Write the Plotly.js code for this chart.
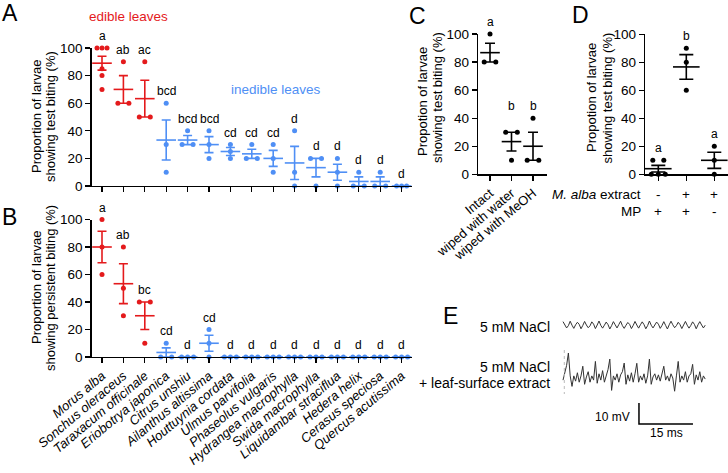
<!DOCTYPE html>
<html><head><meta charset="utf-8">
<script src="https://cdn.plot.ly/plotly-3.0.1.min.js"></script>
<style>html,body{margin:0;padding:0;background:#fff}#plot{width:728px;height:473px}</style>
</head><body><div id="plot"></div>
<script>
// ---------------- DATA ----------------
const species = ['Morus alba','Sonchus oleraceus','Taraxacum officinale','Eriobotrya japonica','Citrus unshiu',
  'Ailanthus altissima','Houttuynia cordata','Ulmus parvifolia','Phaseolus vulgaris','Hydrangea macrophylla',
  'Swida macrophylla','Liquidambar straciflua','Hedera helix','Cerasus speciosa','Quercus acutissima'];
const edible = [true,true,true,false,false,false,false,false,false,false,false,false,false,false,false];

// Panel A: test biting (%)
const aPoints = [[100,100,100,85,80,70],[90,60,60],[90,50,50],[60,30,10],[40,30,30],[40,30,20],[30,25,20],
  [30,20,20],[30,20,10],[40,10,0],[20,20,0],[20,10,0],[10,0,0],[10,0,0],[0,0,0]];
const aMean = [89,70,63.3,33.3,33.3,30,25,23.3,20,16.7,13.3,10,3.3,3.3,0];
const aSem  = [5,10,13.3,14.5,3.3,5.8,2.9,3.3,5.8,12,6.7,5.8,3.3,3.3,0];
const aLetters = ['a','ab','ac','bcd','bcd','bcd','cd','cd','cd','d','d','d','d','d','d'];

// Panel B: persistent biting (%)
const bPoints = [[100,80,60],[80,50,30],[40,40,10],[10,0,0],[0,0,0],[20,10,0],[0,0,0],[0,0,0],[0,0,0],
  [0,0,0],[0,0,0],[0,0,0],[0,0,0],[0,0,0],[0,0,0]];
const bMean = [80,53.3,30,3.3,0,10,0,0,0,0,0,0,0,0,0];
const bSem  = [11.5,14.5,10,3.3,0,5.8,0,0,0,0,0,0,0,0,0];
const bLetters = ['a','ab','bc','cd','d','cd','d','d','d','d','d','d','d','d','d'];

// Panel C
const cCats = ['Intact','wiped with water','wiped with MeOH'];
const cPoints = [[100,80,80],[30,30,10],[40,10,10]];
const cMean = [86.7,23.3,20];
const cSem  = [6.7,6.7,10];
const cLetters = ['a','b','b'];

// Panel D
const dExtract = ['-','+','+'];
const dMP = ['+','+','-'];
const dPoints = [[10,10,0,0,0],[90,80,60],[20,10,0]];
const dMean = [4,76.7,10];
const dSem  = [2.4,8.8,5.8];
const dLetters = ['a','b','a'];

// Panel E: recordings (mV), sampled every 0.5 ms
const sampleMs = 0.5;
const naclTrace = [1.6,0.2,-1.4,-0.3,1.8,-0.1,-1.6,0.1,1.3,0.3,-1.8,-0.2,1.7,0.0,-1.3,-0.4,1.5,0.4,-1.7,0.0,
  1.9,-0.2,-1.5,-0.1,1.4,0.2,-1.9,-0.3,1.6,0.1,-1.4,0.2,1.8,-0.3,-1.6,-0.1,1.2,0.3,-1.7,-0.2,
  1.7,0.0,-1.5,0.1,1.5,0.2,-1.8,-0.3,1.9,-0.1,-1.4,0.0,1.4,0.4,-1.6,-0.2,1.6,-0.2,-1.9,0.1,
  1.8,0.1,-1.3,-0.3,1.3,0.2,-1.7,0.0,1.7,-0.1,-1.5,-0.2,1.5,0.3,-1.8,0.1,1.6,0.0,-1.4,-0.1];
const extractTrace = [-1,2,6,11.9,1,-4,1,-1.5,2.5,-2,1,5.6,-3,0.5,3,-2,1,-1,7.9,-2.5,
  2,-1,3.5,-2,1,4,9,-5.9,1,-1,2,-2,1.5,3,7.1,-3,1.5,-1.5,2.5,-2,
  2,7,-2,1,-1,2,-2.5,1,9,-3,0.5,2,-1,1.5,-1.5,2,5.6,-1,1,-1.5,
  2,0,-6.3,1,7.9,-2,1,-1,3,-2,1,2,6.5,-3,1.5,-1,3,-2,1,-0.5];
const scaleMV = 10, scaleMS = 15;

// ---------------- STYLE ----------------
const W = 728, H = 473;
const FONT = 'Arial, "Liberation Sans", sans-serif';
const RED = '#e41a1c', BLUE = '#4f8ff5', BLACK = '#000';
const fx = p => p / W, fy = p => 1 - p / H;

const traces = [], annotations = [], shapes = [];

function offsets(vals, pxPerCat, pairPx, stepPx) {
  const res = new Array(vals.length).fill(0);
  const groups = {};
  vals.forEach((v, i) => { (groups[v] = groups[v] || []).push(i); });
  Object.values(groups).forEach(idx => {
    const n = idx.length;
    if (n === 1) return;
    const step = (n === 2 ? pairPx * 2 : stepPx) / pxPerCat;
    idx.forEach((ii, k) => { res[ii] = (k - (n - 1) / 2) * step; });
  });
  return res;
}

function panel(o) {
  const n = o.points.length;
  const colors = o.colors;
  const uniq = [...new Set(colors)];
  uniq.forEach(c => {
    const dx = [], dy = [], mx = [], my = [], me = [];
    for (let i = 0; i < n; i++) {
      if (colors[i] !== c) continue;
      const off = offsets(o.points[i], o.pxPerCat, o.pairPx, o.stepPx);
      o.points[i].forEach((v, k) => { dx.push(i + off[k]); dy.push(v); });
      mx.push(i); my.push(o.mean[i]); me.push(o.sem[i]);
    }
    traces.push({type:'scatter', mode:'markers', x:mx, y:my, xaxis:o.xa, yaxis:o.ya, cliponaxis:false,
      hoverinfo:'skip',
      marker:{symbol:'line-ew', size:o.meanW, color:c, line:{color:c, width:1.6}},
      error_y:{type:'data', array:me, visible:true, color:c, thickness:1.6, width:o.capW}});
    traces.push({type:'scatter', mode:'markers', x:dx, y:dy, xaxis:o.xa, yaxis:o.ya, cliponaxis:false,
      hoverinfo:'skip', marker:{size:5, color:c}});
  });
  // significance letters
  const tops = o.points.map(p => Math.max(...p));
  for (let i = 0; i < n; i++) {
    let y = tops[i];
    if (o.align) { for (let j = 0; j < n; j++) if (o.letters[j] === o.letters[i]) y = Math.max(y, tops[j]); }
    annotations.push({xref:o.xa, yref:o.ya, x:i, y:y, text:o.letters[i], showarrow:false,
      yanchor:'bottom', xanchor:'center', yshift:3, font:{family:FONT, size:12, color:'#000'}});
  }
}

function yAxis(topPx, botPx, anchor) {
  return {domain:[fy(botPx), fy(topPx)], range:[0,100], tickvals:[0,20,40,60,80,100], ticks:'outside',
    ticklen:5, tickwidth:1.3, tickcolor:'#000', showline:true, linewidth:1.3, linecolor:'#000',
    showgrid:false, zeroline:false, anchor:anchor, fixedrange:true,
    tickfont:{family:FONT, size:13.5, color:'#000'}};
}
function xAxis(L, R, c0, s, n, anchor, ticktext) {
  return {domain:[fx(L), fx(R)], range:[-(c0 - L) / s, (R - c0) / s + 0], tickvals:[...Array(n).keys()],
    ticktext: ticktext || Array(n).fill(''), showticklabels: !!ticktext, tickangle:-40,
    ticks:'outside', ticklen:5, tickwidth:1.3, tickcolor:'#000', showline:true, linewidth:1.3,
    linecolor:'#000', showgrid:false, zeroline:false, anchor:anchor, fixedrange:true,
    tickfont:{family:FONT, size:13, color:'#000'}};
}

const spColors = edible.map(e => e ? RED : BLUE);

panel({xa:'x', ya:'y', points:aPoints, mean:aMean, sem:aSem, letters:aLetters, colors:spColors,
  pxPerCat:21.4, pairPx:5.5, stepPx:5, meanW:14, capW:4.5});
panel({xa:'x2', ya:'y2', points:bPoints, mean:bMean, sem:bSem, letters:bLetters, colors:spColors,
  pxPerCat:21.4, pairPx:5.5, stepPx:6, meanW:14, capW:4.5});
panel({xa:'x3', ya:'y3', points:cPoints, mean:cMean, sem:cSem, letters:cLetters, colors:[BLACK,BLACK,BLACK],
  pxPerCat:21.5, pairPx:5.8, stepPx:6, meanW:14, capW:5, align:true});
panel({xa:'x4', ya:'y4', points:dPoints, mean:dMean, sem:dSem, letters:dLetters, colors:[BLACK,BLACK,BLACK],
  pxPerCat:28, pairPx:5.5, stepPx:7, meanW:19, capW:7});

// Panel E traces
const tN = naclTrace.map((_, i) => i * sampleMs);
const tE = extractTrace.map((_, i) => i * sampleMs);
traces.push({type:'scatter', mode:'lines', x:tN, y:naclTrace, xaxis:'x5', yaxis:'y5', hoverinfo:'skip',
  line:{color:'#333', width:1}});
traces.push({type:'scatter', mode:'lines', x:tE, y:extractTrace, xaxis:'x5', yaxis:'y6', hoverinfo:'skip',
  line:{color:'#333', width:1}});
const sbX0 = 21.1;
traces.push({type:'scatter', mode:'lines', x:[sbX0, sbX0, sbX0 + scaleMS], y:[scaleMV, 0, 0], xaxis:'x5', yaxis:'y7',
  hoverinfo:'skip', line:{color:'#000', width:1.5}});

const species_text = species.map(s => '<i>' + s + '</i>');

const layout = {
  width:W, height:H, margin:{l:0, r:0, t:0, b:0}, paper_bgcolor:'#fff', plot_bgcolor:'rgba(0,0,0,0)',
  showlegend:false, font:{family:FONT, color:'#000'},
  xaxis: xAxis(91.5, 412, 102, 21.4, 15, 'y'),
  yaxis: yAxis(48, 186, 'x'),
  xaxis2: xAxis(91.5, 412, 102, 21.4, 15, 'y2', species_text),
  yaxis2: yAxis(219.5, 357, 'x2'),
  xaxis3: xAxis(478, 547, 490, 21.5, 3, 'y3', cCats),
  yaxis3: yAxis(34, 174.3, 'x3'),
  xaxis4: xAxis(645, 728, 658.3, 28, 3, 'y4'),
  yaxis4: yAxis(34.3, 174.3, 'x4'),
  xaxis5: {domain:[fx(560), fx(710)], range:[-0.833, 40.83], visible:false, anchor:'y5', fixedrange:true},
  yaxis5: {domain:[fy(340), fy(310)], range:[-7.14, 7.14], visible:false, anchor:'x5', fixedrange:true},
  yaxis6: {domain:[fy(406), fy(350)], range:[-13.33, 13.33], visible:false, anchor:'x5', fixedrange:true},
  yaxis7: {domain:[fy(430), fy(400)], range:[-2.857, 11.43], visible:false, anchor:'x5', fixedrange:true},
  annotations: annotations, shapes: shapes
};

function txt(x, y, text, size, opts) {
  annotations.push(Object.assign({xref:'paper', yref:'paper', x:fx(x), y:fy(y), text:text, showarrow:false,
    xanchor:'center', yanchor:'middle', font:{family:FONT, size:size, color:'#000'}}, opts || {}));
}
// panel letters
txt(10, 13, 'A', 23); txt(9, 217, 'B', 23); txt(417, 16, 'C', 23); txt(580, 15, 'D', 23); txt(450, 316, 'E', 23);
// group labels
txt(128, 17, 'edible leaves', 13.5, {font:{family:FONT, size:13.5, color:RED}});
txt(276, 90, 'inedible leaves', 13.5, {font:{family:FONT, size:13.5, color:BLUE}});
// axis titles
txt(36, 117, 'Proportion of larvae', 13, {textangle:-90});
txt(50, 117, 'showing test biting (%)', 13, {textangle:-90});
txt(36, 288, 'Proportion of larvae', 13, {textangle:-90});
txt(50, 288, 'showing persistent biting (%)', 13, {textangle:-90});
txt(422, 102, 'Propotion of larvae', 13, {textangle:-90});
txt(437, 98, 'showing test biting (%)', 13, {textangle:-90});
txt(591, 98, 'Propotion of larvae', 13, {textangle:-90});
txt(606.5, 98, 'showing test biting (%)', 13, {textangle:-90});
// panel D condition rows
txt(643, 194, '<i>M. alba</i> extract', 13.5, {xanchor:'right'});
txt(643, 211.5, 'MP', 13.5, {xanchor:'right'});
dExtract.forEach((s, i) => annotations.push({xref:'x4', yref:'paper', x:i, y:fy(194), text:s, showarrow:false,
  xanchor:'center', yanchor:'middle', font:{family:FONT, size:13.5, color:'#000'}}));
dMP.forEach((s, i) => annotations.push({xref:'x4', yref:'paper', x:i, y:fy(211.5), text:s, showarrow:false,
  xanchor:'center', yanchor:'middle', font:{family:FONT, size:13.5, color:'#000'}}));
// panel E labels
txt(552, 327, '5 mM NaCl', 14, {xanchor:'right'});
txt(552, 366.5, '5 mM NaCl', 14, {xanchor:'right'});
txt(552, 382.5, '+ leaf-surface extract', 14, {xanchor:'right'});
txt(632, 417, '10 mV', 12, {xanchor:'right'});
txt(666, 432.5, '15 ms', 12);
shapes.push({type:'line', xref:'paper', yref:'paper', x0:fx(564.3), x1:fx(564.3), y0:fy(350), y1:fy(394),
  line:{color:'#bbb', width:1, dash:'dot'}});

Plotly.newPlot('plot', traces, layout, {staticPlot:true, displayModeBar:false});
</script>
</body></html>
